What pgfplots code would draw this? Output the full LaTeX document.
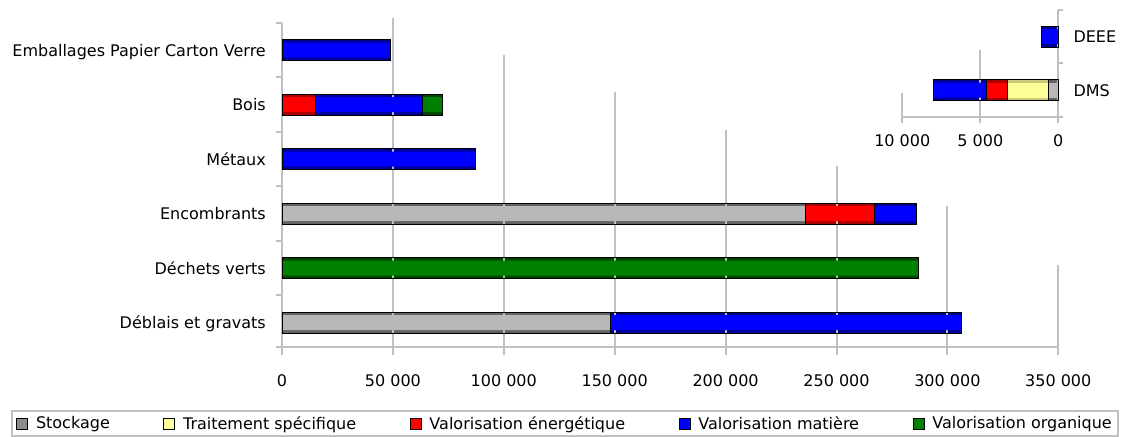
\documentclass[border=0pt]{standalone}
\usepackage{pgfplots}
\pgfplotsset{compat=1.18}
\usepackage{pgfplotstable}
\usepackage{fontspec}
\setmainfont{DejaVu Sans}
\definecolor{gridgray}{RGB}{192,192,192}
\definecolor{cblue}{RGB}{0,0,255}
\definecolor{cred}{RGB}{255,0,0}
\definecolor{cgreen}{RGB}{0,128,0}
\definecolor{cyellow}{RGB}{255,255,153}
\definecolor{cgray}{RGB}{184,184,184}
\definecolor{dblue}{RGB}{0,0,150}
\definecolor{dred}{RGB}{170,0,0}
\definecolor{dgreen}{RGB}{0,70,0}
\definecolor{dyellow}{RGB}{200,200,120}
\definecolor{dgray}{RGB}{100,100,100}
\definecolor{leggray}{RGB}{140,140,140}

\pgfplotstableread{
idx sto tra ene mat org
0 148200 0 0 157900 0
1 0 0 0 0 286700
2 236200 0 31100 18900 0
3 0 0 0 87000 0
4 0 0 14900 48600 8900
5 0 0 0 48700 0
}\maindata

\pgfplotstableread{
idx sto tra ene mat org
0 620 2630 1330 3410 0
1 0 0 0 1100 0
}\insetdata

\newcommand{\lab}{\fontsize{16bp}{19bp}\selectfont}
\newcommand{\ea}{^^^^00e9}
\newcommand{\eg}{^^^^00e8}
\pgfplotsset{
  legsq/.style={legend image code/.code={\draw[black, line width=0.8bp, fill=#1] (0bp,-5.5bp) rectangle (11bp,5.5bp);}},
  maingeo/.style={at={(282bp,87bp)}, anchor=south west, scale only axis, width=776.3bp, height=327bp,
    xmin=0, xmax=350000, ymin=-0.5, ymax=5.5, clip=false, xbar stacked, scaled x ticks=false},
  insetgeo/.style={at={(902.3bp,320bp)}, anchor=south west, scale only axis, width=156bp, height=107bp,
    x dir=reverse, xmin=0, xmax=10000, ymin=-0.5, ymax=1.5, clip=false, xbar stacked, scaled x ticks=false},
  fillbar/.style={fill=#1, draw=none, forget plot},
  linebar/.style={fill=none, draw=black, line width=0.8bp, forget plot},
}

\begin{document}
\begin{tikzpicture}
\useasboundingbox (0,0) rectangle (1131bp,437bp);
% ===== main axis: labels, grid, dark base bars
\begin{axis}[
  maingeo, bar width=21bp,
  axis line style={draw=none},
  tick style={draw=none}, major tick length=0pt,
  ytick={0,1,2,3,4,5},
  yticklabels={D\ea blais et gravats, D\ea chets verts, Encombrants, M\ea taux, Bois\hspace{23bp}, Emballages Papier Carton Verre},
  xtick={0,50000,100000,150000,200000,250000,300000,350000},
  xticklabels={0,50 000,100 000,150 000,200 000,250 000,300 000,350 000},
  yticklabel style={font=\lab, anchor=base east, inner sep=0pt, xshift=-16bp, yshift=-5.8bp},
  xticklabel style={font=\lab, anchor=base, inner sep=0pt, yshift=-36bp},
  legend columns=5,
  legend style={at={(0.36455,-0.2248)}, anchor=center, draw=gridgray, line width=2bp,
    font=\lab, inner xsep=4bp, inner ysep=3.5bp,
    /tikz/every odd column/.append style={column sep=6bp},
    /tikz/every even column/.append style={column sep=51.5bp}},
  legend cell align=left,
]
\draw[gridgray, line width=2bp] (axis cs:0,-0.5917) -- (axis cs:0,5.5);
\draw[gridgray, line width=2bp] (axis cs:50000,-0.5917) -- (axis cs:50000,5.5917);
\draw[gridgray, line width=2bp] (axis cs:100000,-0.5917) -- (axis cs:100000,4.9128);
\draw[gridgray, line width=2bp] (axis cs:150000,-0.5917) -- (axis cs:150000,4.2339);
\draw[gridgray, line width=2bp] (axis cs:200000,-0.5917) -- (axis cs:200000,3.5367);
\draw[gridgray, line width=2bp] (axis cs:250000,-0.5917) -- (axis cs:250000,2.8761);
\draw[gridgray, line width=2bp] (axis cs:300000,-0.5917) -- (axis cs:300000,2.1422);
\draw[gridgray, line width=2bp] (axis cs:350000,-0.5917) -- (axis cs:350000,1.0596);
\draw[gridgray, line width=2bp] (axis cs:-2700,-0.45) -- (axis cs:350000,-0.45);
\draw[gridgray, line width=2bp] (axis cs:-2700,0.5) -- (axis cs:0,0.5);
\draw[gridgray, line width=2bp] (axis cs:-2700,1.5) -- (axis cs:0,1.5);
\draw[gridgray, line width=2bp] (axis cs:-2700,2.5) -- (axis cs:0,2.5);
\draw[gridgray, line width=2bp] (axis cs:-2700,3.5) -- (axis cs:0,3.5);
\draw[gridgray, line width=2bp] (axis cs:-2700,4.5) -- (axis cs:0,4.5);
\draw[gridgray, line width=2bp] (axis cs:-2700,5.5) -- (axis cs:0,5.5);
\addplot[fillbar=dgray] table[x=sto, y=idx] {\maindata};
\addplot[fillbar=dyellow] table[x=tra, y=idx] {\maindata};
\addplot[fillbar=dred] table[x=ene, y=idx] {\maindata};
\addplot[fillbar=dblue] table[x=mat, y=idx] {\maindata};
\addplot[fillbar=dgreen] table[x=org, y=idx] {\maindata};
\addlegendimage{legsq=leggray}
\addlegendentry{Stockage}
\addlegendimage{legsq=cyellow}
\addlegendentry{Traitement sp\ea cifique}
\addlegendimage{legsq=cred}
\addlegendentry{Valorisation \ea nerg\ea tique}
\addlegendimage{legsq=cblue}
\addlegendentry{Valorisation mati\eg re}
\addlegendimage{legsq=cgreen}
\addlegendentry{Valorisation organique}
\end{axis}
% ===== main axis: bright inner band
\begin{axis}[maingeo, hide axis, bar width=15bp]
\addplot[fillbar=cgray] table[x=sto, y=idx] {\maindata};
\addplot[fillbar=cyellow] table[x=tra, y=idx] {\maindata};
\addplot[fillbar=cred] table[x=ene, y=idx] {\maindata};
\addplot[fillbar=cblue] table[x=mat, y=idx] {\maindata};
\addplot[fillbar=cgreen] table[x=org, y=idx] {\maindata};
\end{axis}
% ===== main axis: outlines
\begin{axis}[maingeo, hide axis, bar width=21bp]
\addplot[linebar] table[x=sto, y=idx] {\maindata};
\addplot[linebar] table[x=tra, y=idx] {\maindata};
\addplot[linebar] table[x=ene, y=idx] {\maindata};
\addplot[linebar] table[x=mat, y=idx] {\maindata};
\addplot[linebar] table[x=org, y=idx] {\maindata};
\end{axis}
% ===== inset axis
\begin{axis}[
  insetgeo, bar width=21bp,
  axis line style={draw=none},
  tick style={draw=none}, major tick length=0pt,
  ytick={0,1}, yticklabels={DMS,DEEE},
  yticklabel pos=right,
  xtick={0,5000,10000}, xticklabels={0,5 000,10 000},
  yticklabel style={font=\lab, anchor=base west, inner sep=0pt, xshift=15bp, yshift=-5.8bp},
  xticklabel style={font=\lab, anchor=base, inner sep=0pt, yshift=-29.5bp},
]
\draw[gridgray, line width=2bp] (axis cs:0,-0.612) -- (axis cs:0,1.5);
\draw[gridgray, line width=2bp] (axis cs:5000,-0.612) -- (axis cs:5000,0.752);
\draw[gridgray, line width=2bp] (axis cs:10000,-0.612) -- (axis cs:10000,-0.0514);
\draw[gridgray, line width=2bp] (axis cs:10000,-0.5) -- (axis cs:-320,-0.5);
\draw[gridgray, line width=2bp] (axis cs:0,0.5) -- (axis cs:-320,0.5);
\draw[gridgray, line width=2bp] (axis cs:0,1.5) -- (axis cs:-320,1.5);
\addplot[fillbar=dgray] table[x=sto, y=idx] {\insetdata};
\addplot[fillbar=dyellow] table[x=tra, y=idx] {\insetdata};
\addplot[fillbar=dred] table[x=ene, y=idx] {\insetdata};
\addplot[fillbar=dblue] table[x=mat, y=idx] {\insetdata};
\addplot[fillbar=dgreen] table[x=org, y=idx] {\insetdata};
\end{axis}
\begin{axis}[insetgeo, hide axis, bar width=15bp]
\addplot[fillbar=cgray] table[x=sto, y=idx] {\insetdata};
\addplot[fillbar=cyellow] table[x=tra, y=idx] {\insetdata};
\addplot[fillbar=cred] table[x=ene, y=idx] {\insetdata};
\addplot[fillbar=cblue] table[x=mat, y=idx] {\insetdata};
\addplot[fillbar=cgreen] table[x=org, y=idx] {\insetdata};
\end{axis}
\begin{axis}[insetgeo, hide axis, bar width=21bp]
\addplot[linebar] table[x=sto, y=idx] {\insetdata};
\addplot[linebar] table[x=tra, y=idx] {\insetdata};
\addplot[linebar] table[x=ene, y=idx] {\insetdata};
\addplot[linebar] table[x=mat, y=idx] {\insetdata};
\addplot[linebar] table[x=org, y=idx] {\insetdata};
\end{axis}
\end{tikzpicture}
\end{document}
